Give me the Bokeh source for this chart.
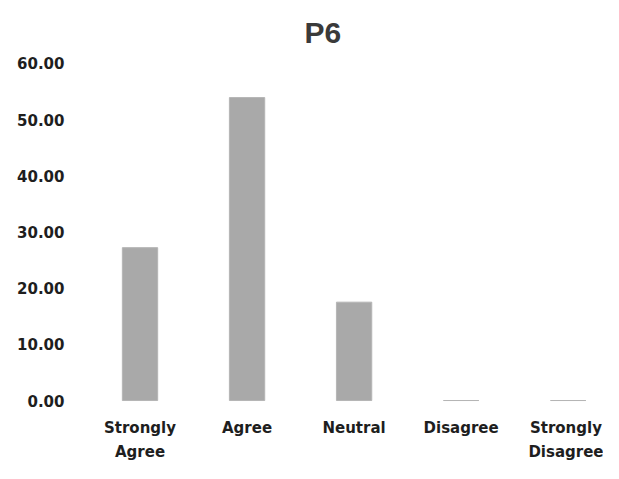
from bokeh.plotting import figure
from bokeh.models import Range1d, FixedTicker
from bokeh.embed import file_html
from bokeh.resources import INLINE

categories = ["Strongly\nAgree", "Agree", "Neutral", "Disagree", "Strongly\nDisagree"]
values = [27.2, 53.9, 17.5, 0.0, 0.0]
y_ticks = [0, 10, 20, 30, 40, 50, 60]

xs = list(range(len(categories)))

p = figure(width=603, height=463, output_backend="svg", toolbar_location=None,
           x_range=Range1d(-0.5, 4.33), y_range=Range1d(-1.42, 60.5),
           min_border_left=86, min_border_right=0, min_border_top=60, min_border_bottom=54,
           title="P6")
p.vbar(x=xs, top=values, width=0.33, fill_color="#a9a9a9", line_color="#b5b5b5", line_width=1)

p.title.align = "left"
p.title.vertical_align = "top"
p.title.offset = 218
p.title.standoff = 20
p.title.text_font = "Liberation Sans"
p.title.text_font_size = "30px"
p.title.text_font_style = "bold"
p.title.text_color = "#3a3a3a"

p.xaxis.ticker = FixedTicker(ticks=xs)
p.xaxis.major_label_overrides = {i: c for i, c in enumerate(categories)}
p.yaxis.ticker = FixedTicker(ticks=y_ticks)
p.yaxis.major_label_overrides = {t: f"{t:.2f}" for t in y_ticks}

for ax in (p.xaxis[0], p.yaxis[0]):
    ax.axis_line_color = None
    ax.major_tick_line_color = None
    ax.minor_tick_line_color = None
    ax.major_label_text_font = "DejaVu Sans"
    ax.major_label_text_font_style = "bold"
    ax.major_label_text_font_size = "15px"
    ax.major_label_text_color = "#1e1e1e"
p.xaxis.major_label_text_line_height = 1.35
p.xaxis.major_label_standoff = 4
p.yaxis.major_label_standoff = 16

p.xgrid.grid_line_color = None
p.ygrid.grid_line_color = None
p.outline_line_color = None

open("out.html", "w").write(file_html(p, INLINE))
